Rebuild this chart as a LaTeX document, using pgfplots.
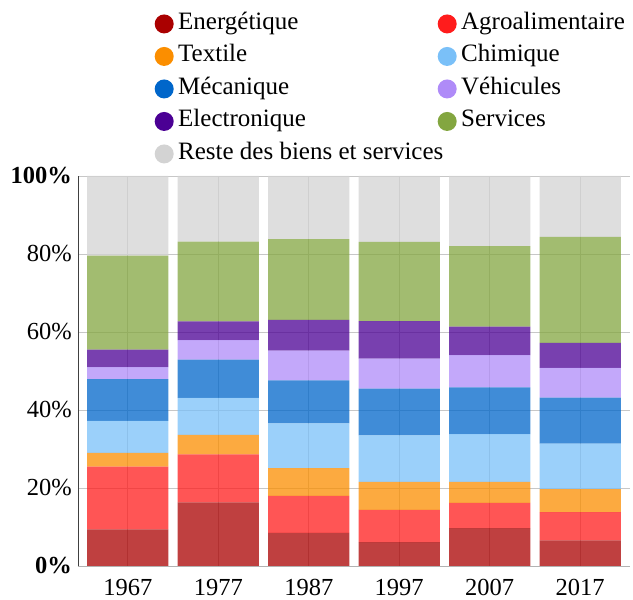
\documentclass[border=0pt]{standalone}
\usepackage{fontspec}
\setmainfont{Liberation Serif}
\usepackage{pgfplots}
\pgfplotsset{compat=1.18}
\definecolor{cEn}{HTML}{AA0000}
\definecolor{cAg}{HTML}{FF1C1C}
\definecolor{cTe}{HTML}{FB8E00}
\definecolor{cCh}{HTML}{7AC0F8}
\definecolor{cMe}{HTML}{0066CA}
\definecolor{cVe}{HTML}{AF8BF8}
\definecolor{cEl}{HTML}{4B0094}
\definecolor{cSe}{HTML}{83A640}
\definecolor{cRe}{HTML}{D3D3D3}
\newcommand{\bigfont}{\fontsize{24.5bp}{29bp}\selectfont}
\newcommand{\legfont}{\fontsize{25bp}{29bp}\selectfont}
\begin{document}
\begin{tikzpicture}
\begin{axis}[name=ax, scale only axis, width=552bp, height=390bp,
  xmin=-0.55, xmax=5.55, ymin=0, ymax=100,
  ybar stacked, bar width=0.9,
  xtick={0,...,5}, xticklabels={1967,1977,1987,1997,2007,2017},
  ytick={0,20,40,60,80,100},
  yticklabels={\textbf{0\%},20\%,40\%,60\%,80\%,\textbf{100\%}},
  major tick length=0pt,
  grid=major, grid style={black!22, line width=0.7bp},
  axis x line*=bottom, axis y line*=left,
  x axis line style={black!30,-}, y axis line style={black!75,-},
  ticklabel style={font=\bigfont},
  yticklabel style={inner sep=0pt, anchor=east, xshift=-6bp},
  xticklabel style={inner sep=0pt, anchor=north, yshift=-13bp},
  legend columns=2, legend cell align=left,
  legend style={at={(axis description cs:0,1)}, anchor=north west,
    xshift=76.5bp, yshift=168.5bp, draw=none, fill=none, inner sep=0pt,
    column sep=0pt, row sep=0pt, font=\legfont,
    nodes={inner xsep=4.5bp, inner ysep=4.75bp, text height=17bp, text depth=6bp}},
  legend image code/.code={\fill[#1, fill opacity=1, draw=none] (9.5bp,0bp) circle (9.5bp);},
]
\addplot[fill=cEn, draw=none, fill opacity=0.75] coordinates {(0,9.4) (1,16.3) (2,8.5) (3,6.1) (4,9.7) (5,6.6)};
\addlegendentry{\makebox[255bp][l]{Energétique}}
\addplot[fill=cAg, draw=none, fill opacity=0.75] coordinates {(0,16.1) (1,12.3) (2,9.5) (3,8.3) (4,6.5) (5,7.2)};
\addlegendentry{Agroalimentaire}
\addplot[fill=cTe, draw=none, fill opacity=0.75] coordinates {(0,3.5) (1,5.0) (2,7.1) (3,7.2) (4,5.4) (5,5.9)};
\addlegendentry{\makebox[255bp][l]{Textile}}
\addplot[fill=cCh, draw=none, fill opacity=0.75] coordinates {(0,8.2) (1,9.5) (2,11.5) (3,11.9) (4,12.2) (5,11.7)};
\addlegendentry{Chimique}
\addplot[fill=cMe, draw=none, fill opacity=0.75] coordinates {(0,10.7) (1,9.8) (2,11.0) (3,12.0) (4,12.0) (5,11.8)};
\addlegendentry{\makebox[255bp][l]{Mécanique}}
\addplot[fill=cVe, draw=none, fill opacity=0.75] coordinates {(0,3.1) (1,5.0) (2,7.6) (3,7.7) (4,8.3) (5,7.6)};
\addlegendentry{Véhicules}
\addplot[fill=cEl, draw=none, fill opacity=0.75] coordinates {(0,4.5) (1,4.8) (2,7.9) (3,9.6) (4,7.3) (5,6.4)};
\addlegendentry{\makebox[255bp][l]{Electronique}}
\addplot[fill=cSe, draw=none, fill opacity=0.75] coordinates {(0,24.1) (1,20.5) (2,20.7) (3,20.3) (4,20.6) (5,27.2)};
\addlegendentry{Services}
\addplot[fill=cRe, draw=none, fill opacity=0.75] coordinates {(0,20.4) (1,16.8) (2,16.2) (3,16.9) (4,18.0) (5,15.6)};
\addlegendentry{\makebox[255bp][l]{Reste des biens et services}}
\end{axis}
\path (ax.south west) ++(-78bp,-34bp) rectangle ++(633bp,600bp);
\end{tikzpicture}
\end{document}
